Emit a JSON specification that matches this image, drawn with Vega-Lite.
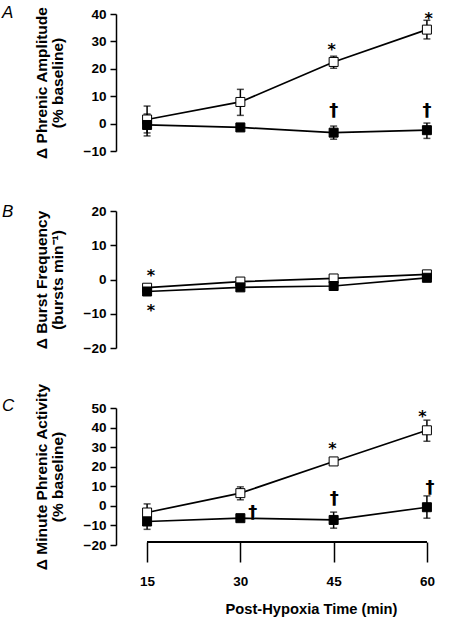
{
  "$schema": "https://vega.github.io/schema/vega-lite/v6.json",
  "autosize": {"type": "none"},
  "padding": {"left": 116, "top": 14, "right": 342, "bottom": 604},
  "bounds": "flush",
  "spacing": 60,
  "config": {
    "view": {"stroke": null},
    "font": "Liberation Sans",
    "axis": {
      "grid": false,
      "labelFont": "Liberation Sans",
      "labelFontWeight": "bold",
      "labelFontSize": 13.5,
      "labelColor": "black",
      "labelOverlap": false,
      "labelBound": false,
      "tickCount": 20,
      "titleFont": "Liberation Sans",
      "titleFontWeight": "bold",
      "titleFontSize": 15.5,
      "titleColor": "black",
      "domainColor": "black",
      "domainWidth": 1.5,
      "tickColor": "black",
      "tickWidth": 1.5,
      "tickSize": 6,
      "labelPadding": 4
    },
    "axisY": {"titlePadding": 18, "titleLineHeight": 16}
  },
  "datasets": {
    "a": [
      {"time": 15, "group": "open", "mean": 1.5, "lo": -3.4, "hi": 6.4},
      {"time": 30, "group": "open", "mean": 7.9, "lo": 3.0, "hi": 12.5},
      {"time": 45, "group": "open", "mean": 22.5, "lo": 20.2, "hi": 24.6},
      {"time": 60, "group": "open", "mean": 34.3, "lo": 30.9, "hi": 37.7},
      {"time": 15, "group": "filled", "mean": -0.5, "lo": -4.5, "hi": 3.5},
      {"time": 30, "group": "filled", "mean": -1.4, "lo": -2.4, "hi": -0.4},
      {"time": 45, "group": "filled", "mean": -3.3, "lo": -5.7, "hi": -0.9},
      {"time": 60, "group": "filled", "mean": -2.4, "lo": -5.4, "hi": 0.2}
    ],
    "b": [
      {"time": 15, "group": "open", "mean": -2.4, "lo": -3.2, "hi": -1.6},
      {"time": 30, "group": "open", "mean": -0.6, "lo": -1.3, "hi": 0.1},
      {"time": 45, "group": "open", "mean": 0.3, "lo": -0.4, "hi": 1.0},
      {"time": 60, "group": "open", "mean": 1.5, "lo": 0.8, "hi": 2.2},
      {"time": 15, "group": "filled", "mean": -3.5, "lo": -4.3, "hi": -2.7},
      {"time": 30, "group": "filled", "mean": -2.3, "lo": -3.0, "hi": -1.6},
      {"time": 45, "group": "filled", "mean": -1.9, "lo": -2.8, "hi": -1.0},
      {"time": 60, "group": "filled", "mean": 0.5, "lo": -0.3, "hi": 1.3}
    ],
    "c": [
      {"time": 15, "group": "open", "mean": -3.4, "lo": -7.8, "hi": 1.0},
      {"time": 30, "group": "open", "mean": 6.5, "lo": 3.1, "hi": 9.7},
      {"time": 45, "group": "open", "mean": 22.7, "lo": 21.7, "hi": 23.7},
      {"time": 60, "group": "open", "mean": 38.6, "lo": 33.0, "hi": 43.8},
      {"time": 15, "group": "filled", "mean": -8.0, "lo": -12.0, "hi": -4.0},
      {"time": 30, "group": "filled", "mean": -6.3, "lo": -7.3, "hi": -5.3},
      {"time": 45, "group": "filled", "mean": -7.2, "lo": -11.4, "hi": -3.2},
      {"time": 60, "group": "filled", "mean": -0.7, "lo": -6.3, "hi": 5.1}
    ],
    "annA": [
      {"time": 44.7, "value": 28.2, "label": "*"},
      {"time": 60.3, "value": 39.7, "label": "*"},
      {"time": 45, "value": 4.8, "label": "†"},
      {"time": 60, "value": 4.8, "label": "†"}
    ],
    "annB": [
      {"time": 15.6, "value": 2.1, "label": "*"},
      {"time": 15.6, "value": -8.0, "label": "*"}
    ],
    "annC": [
      {"time": 44.8, "value": 31.3, "label": "*"},
      {"time": 59.3, "value": 47.2, "label": "*"},
      {"time": 32.0, "value": -3.1, "label": "†"},
      {"time": 45.1, "value": 4.1, "label": "†"},
      {"time": 60.5, "value": 9.7, "label": "†"}
    ]
  },
  "vconcat": [
    {
      "width": 342,
      "height": 137,
      "title": {"text": "A", "anchor": "start", "frame": "group", "orient": "top", "offset": -29, "dx": -114, "fontSize": 17, "fontStyle": "italic", "fontWeight": "normal", "font": "Liberation Sans", "baseline": "alphabetic", "color": "black"},
      "data": {"name": "a"},
      "layer": [
        {
          "mark": {"type": "rule", "strokeDash": [4, 6.5], "strokeWidth": 2, "color": "black"},
          "encoding": {
            "x": {"field": "time", "type": "quantitative", "scale": {"domain": [10, 65], "nice": false, "zero": false}, "axis": null},
            "y": {"datum": 0, "type": "quantitative", "scale": {"domain": [-10, 40], "nice": false, "zero": false}, "axis": {"values": [-10, 0, 10, 20, 30, 40], "tickCount": 20, "labelOverlap": false, "title": ["Δ Phrenic Amplitude", "(% baseline)"]}}
          }
        },
        {
          "mark": {"type": "rule", "strokeWidth": 1.5, "color": "black"},
          "encoding": {"x": {"field": "time", "type": "quantitative"}, "y": {"field": "lo", "type": "quantitative"}, "y2": {"field": "hi"}}
        },
        {
          "mark": {"type": "tick", "orient": "horizontal", "size": 7, "thickness": 1.5, "color": "black"},
          "encoding": {"x": {"field": "time", "type": "quantitative"}, "y": {"field": "lo", "type": "quantitative"}}
        },
        {
          "mark": {"type": "tick", "orient": "horizontal", "size": 7, "thickness": 1.5, "color": "black"},
          "encoding": {"x": {"field": "time", "type": "quantitative"}, "y": {"field": "hi", "type": "quantitative"}}
        },
        {
          "mark": {"type": "line", "strokeWidth": 1.7, "color": "black"},
          "encoding": {"x": {"field": "time", "type": "quantitative"}, "y": {"field": "mean", "type": "quantitative"}, "detail": {"field": "group"}}
        },
        {
          "mark": {"type": "point", "shape": "square", "size": 81, "filled": true, "stroke": "black", "strokeWidth": 1, "opacity": 1},
          "encoding": {
            "x": {"field": "time", "type": "quantitative"},
            "y": {"field": "mean", "type": "quantitative"},
            "fill": {"field": "group", "type": "nominal", "scale": {"domain": ["open", "filled"], "range": ["white", "black"]}, "legend": null},
            "order": {"field": "group", "sort": "descending"}
          }
        },
        {
          "data": {"name": "annA"},
          "transform": [{"filter": "datum.label == '*'"}],
          "mark": {"type": "text", "fontSize": 16, "fontWeight": "bold", "font": "DejaVu Sans", "color": "black", "baseline": "middle", "dy": 4},
          "encoding": {"x": {"field": "time", "type": "quantitative"}, "y": {"field": "value", "type": "quantitative"}, "text": {"field": "label"}}
        },
        {
          "data": {"name": "annA"},
          "transform": [{"filter": "datum.label == '†'"}],
          "mark": {"type": "text", "fontSize": 18, "fontWeight": "bold", "font": "DejaVu Sans", "color": "black", "baseline": "middle", "dy": 1},
          "encoding": {"x": {"field": "time", "type": "quantitative"}, "y": {"field": "value", "type": "quantitative"}, "text": {"field": "label"}}
        }
      ]
    },
    {
      "width": 342,
      "height": 137,
      "title": {"text": "B", "anchor": "start", "frame": "group", "orient": "top", "offset": -30, "dx": -114, "fontSize": 17, "fontStyle": "italic", "fontWeight": "normal", "font": "Liberation Sans", "baseline": "alphabetic", "color": "black"},
      "data": {"name": "b"},
      "layer": [
        {
          "mark": {"type": "rule", "strokeDash": [4, 6.5], "strokeWidth": 2, "color": "black"},
          "encoding": {
            "x": {"field": "time", "type": "quantitative", "scale": {"domain": [10, 65], "nice": false, "zero": false}, "axis": null},
            "y": {"datum": 0, "type": "quantitative", "scale": {"domain": [-20, 20], "nice": false, "zero": false}, "axis": {"values": [-20, -10, 0, 10, 20], "tickCount": 20, "labelOverlap": false, "title": ["Δ Burst Frequency", "(bursts min⁻¹)"]}}
          }
        },
        {
          "mark": {"type": "rule", "strokeWidth": 1.5, "color": "black"},
          "encoding": {"x": {"field": "time", "type": "quantitative"}, "y": {"field": "lo", "type": "quantitative"}, "y2": {"field": "hi"}}
        },
        {
          "mark": {"type": "line", "strokeWidth": 1.7, "color": "black"},
          "encoding": {"x": {"field": "time", "type": "quantitative"}, "y": {"field": "mean", "type": "quantitative"}, "detail": {"field": "group"}}
        },
        {
          "mark": {"type": "point", "shape": "square", "size": 81, "filled": true, "stroke": "black", "strokeWidth": 1, "opacity": 1},
          "encoding": {
            "x": {"field": "time", "type": "quantitative"},
            "y": {"field": "mean", "type": "quantitative"},
            "fill": {"field": "group", "type": "nominal", "scale": {"domain": ["open", "filled"], "range": ["white", "black"]}, "legend": null},
            "order": {"field": "group", "sort": "descending"}
          }
        },
        {
          "data": {"name": "annB"},
          "mark": {"type": "text", "fontSize": 16, "fontWeight": "bold", "font": "DejaVu Sans", "color": "black", "baseline": "middle", "dy": 4},
          "encoding": {"x": {"field": "time", "type": "quantitative"}, "y": {"field": "value", "type": "quantitative"}, "text": {"field": "label"}}
        }
      ]
    },
    {
      "width": 342,
      "height": 137,
      "title": {"text": "C", "anchor": "start", "frame": "group", "orient": "top", "offset": -45, "dx": -114, "fontSize": 17, "fontStyle": "italic", "fontWeight": "normal", "font": "Liberation Sans", "baseline": "alphabetic", "color": "black"},
      "data": {"name": "c"},
      "layer": [
        {
          "mark": {"type": "rule", "strokeDash": [4, 6.5], "strokeWidth": 2, "color": "black"},
          "encoding": {
            "x": {"field": "time", "type": "quantitative", "scale": {"domain": [10, 65], "nice": false, "zero": false}, "axis": {"values": [15, 30, 45, 60], "tickCount": 20, "domain": false, "tickSize": 20, "offset": -3, "labelFontSize": 13.5, "labelPadding": 12, "labelOverlap": false, "title": "Post-Hypoxia Time (min)", "titleFontSize": 14.7, "titlePadding": 14, "titleX": 195}},
            "y": {"datum": 0, "type": "quantitative", "scale": {"domain": [-20, 50], "nice": false, "zero": false}, "axis": {"values": [-20, -10, 0, 10, 20, 30, 40, 50], "tickCount": 20, "labelOverlap": false, "title": ["Δ Minute Phrenic Activity", "(% baseline)"]}}
          }
        },
        {
          "mark": {"type": "rule", "strokeWidth": 1.5, "color": "black"},
          "encoding": {"x": {"datum": 15}, "x2": {"datum": 60}, "y": {"datum": -18.6}}
        },
        {
          "mark": {"type": "rule", "strokeWidth": 1.5, "color": "black"},
          "encoding": {"x": {"field": "time", "type": "quantitative"}, "y": {"field": "lo", "type": "quantitative"}, "y2": {"field": "hi"}}
        },
        {
          "mark": {"type": "tick", "orient": "horizontal", "size": 7, "thickness": 1.5, "color": "black"},
          "encoding": {"x": {"field": "time", "type": "quantitative"}, "y": {"field": "lo", "type": "quantitative"}}
        },
        {
          "mark": {"type": "tick", "orient": "horizontal", "size": 7, "thickness": 1.5, "color": "black"},
          "encoding": {"x": {"field": "time", "type": "quantitative"}, "y": {"field": "hi", "type": "quantitative"}}
        },
        {
          "mark": {"type": "line", "strokeWidth": 1.7, "color": "black"},
          "encoding": {"x": {"field": "time", "type": "quantitative"}, "y": {"field": "mean", "type": "quantitative"}, "detail": {"field": "group"}}
        },
        {
          "mark": {"type": "point", "shape": "square", "size": 81, "filled": true, "stroke": "black", "strokeWidth": 1, "opacity": 1},
          "encoding": {
            "x": {"field": "time", "type": "quantitative"},
            "y": {"field": "mean", "type": "quantitative"},
            "fill": {"field": "group", "type": "nominal", "scale": {"domain": ["open", "filled"], "range": ["white", "black"]}, "legend": null},
            "order": {"field": "group", "sort": "descending"}
          }
        },
        {
          "data": {"name": "annC"},
          "transform": [{"filter": "datum.label == '*'"}],
          "mark": {"type": "text", "fontSize": 16, "fontWeight": "bold", "font": "DejaVu Sans", "color": "black", "baseline": "middle", "dy": 4},
          "encoding": {"x": {"field": "time", "type": "quantitative"}, "y": {"field": "value", "type": "quantitative"}, "text": {"field": "label"}}
        },
        {
          "data": {"name": "annC"},
          "transform": [{"filter": "datum.label == '†'"}],
          "mark": {"type": "text", "fontSize": 18, "fontWeight": "bold", "font": "DejaVu Sans", "color": "black", "baseline": "middle", "dy": 1},
          "encoding": {"x": {"field": "time", "type": "quantitative"}, "y": {"field": "value", "type": "quantitative"}, "text": {"field": "label"}}
        }
      ]
    }
  ]
}
